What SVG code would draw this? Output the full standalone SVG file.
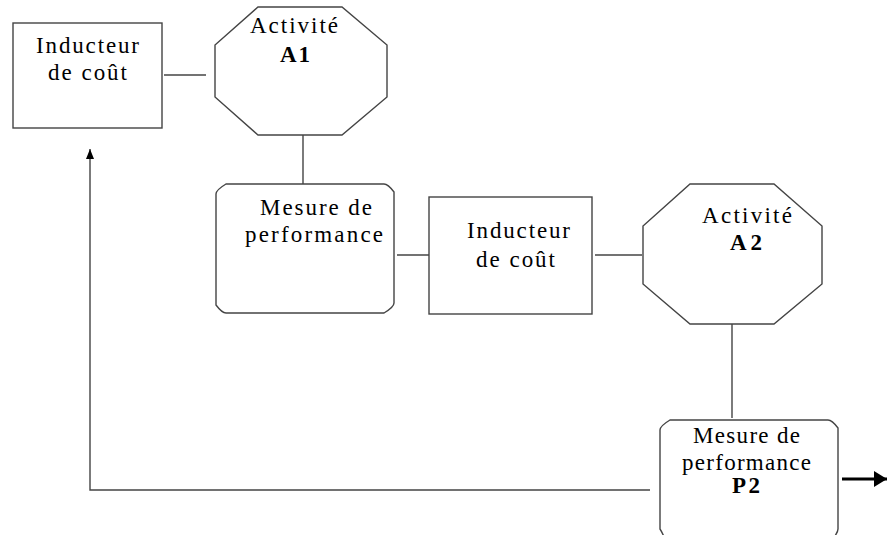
<svg xmlns="http://www.w3.org/2000/svg" width="887" height="535" viewBox="0 0 887 535">
<defs>
<style>
.s{fill:#fff;stroke:#444;stroke-width:1.4}
.c{fill:none;stroke:#444;stroke-width:1.4}
.t{font-family:"Liberation Serif","Times New Roman",serif;font-size:23px;fill:#000}
.b{font-weight:bold}
</style>
<marker id="ah" viewBox="0 0 10 8" refX="10" refY="4" markerWidth="10" markerHeight="8" markerUnits="userSpaceOnUse" orient="auto">
<path d="M0,0 L10,4 L0,8 Z" fill="#000"/>
</marker>
<marker id="ah2" viewBox="0 0 13 16" refX="13" refY="8" markerWidth="13" markerHeight="16" markerUnits="userSpaceOnUse" orient="auto">
<path d="M0,0 L13,8 L0,16 Z" fill="#000"/>
</marker>
</defs>
<rect width="887" height="535" fill="#fff"/>
<g id="connectors">
<line class="c" x1="164" y1="75" x2="206" y2="75"/>
<line class="c" x1="303" y1="135" x2="303" y2="193"/>
<line class="c" x1="397" y1="255" x2="436" y2="255"/>
<line class="c" x1="595" y1="255" x2="642" y2="255"/>
<line class="c" x1="732" y1="324" x2="732" y2="418"/>
<polyline class="c" points="650,490 90,490 90,149" marker-end="url(#ah)"/>
<line x1="842" y1="479" x2="887" y2="479" stroke="#000" stroke-width="3.2" marker-end="url(#ah2)"/>
</g>
<g id="inducteur1">
<rect class="s" x="13" y="23" width="149" height="105"/>
<text class="t" x="36" y="53" textLength="103">Inducteur</text>
<text class="t" x="48" y="80" textLength="79">de coût</text>
</g>
<g id="activite1">
<polygon class="s" points="258,7 342,7 387,45 387,97 342,135 258,135 215,97 215,45"/>
<text class="t" x="250" y="33" textLength="88">Activité</text>
<text class="t b" x="280" y="62" textLength="30">A1</text>
</g>
<g id="mesure1">
<path class="s" d="M226,184 L384,184 Q388,184 394,192 L394,303 Q394,307 384,313 L226,313 Q222,313 216,305 L216,194 Q216,190 226,184 Z"/>
<text class="t" x="260" y="215" textLength="112">Mesure de</text>
<text class="t" x="245" y="242" textLength="138">performance</text>
</g>
<g id="inducteur2">
<rect class="s" x="429" y="197" width="163" height="117"/>
<text class="t" x="467" y="238" textLength="103">Inducteur</text>
<text class="t" x="476" y="267" textLength="79">de coût</text>
</g>
<g id="activite2">
<polygon class="s" points="690,184 774,184 822,226 822,284 774,324 690,324 643,284 643,226"/>
<text class="t" x="702" y="223" textLength="90">Activité</text>
<text class="t b" x="730" y="250" textLength="32">A2</text>
</g>
<g id="mesure2">
<path class="s" d="M670,420 L828,420 Q832,420 838,428 L838,529 Q838,532 833,539 L665,539 Q662,532 660,529 L660,430 Q660,426 670,420 Z"/>
<text class="t" x="693" y="443" textLength="107">Mesure de</text>
<text class="t" x="682" y="470" textLength="129">performance</text>
<text class="t b" x="732" y="493" textLength="28">P2</text>
</g>
</svg>
